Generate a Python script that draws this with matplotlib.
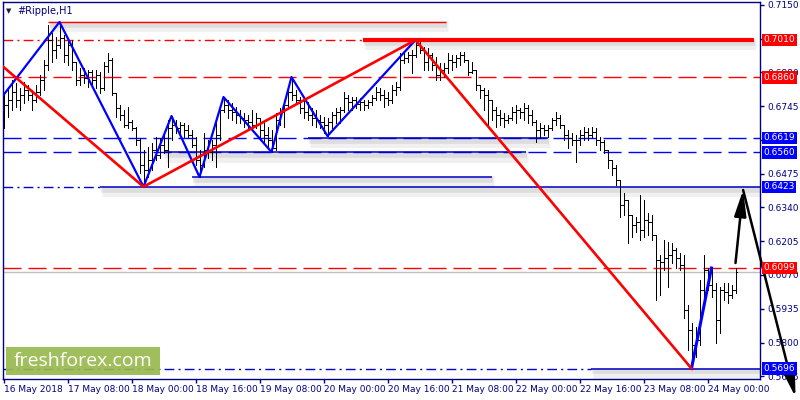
import matplotlib
matplotlib.use("Agg")
import matplotlib.pyplot as plt
import matplotlib.patheffects as pe
from matplotlib.collections import LineCollection
from matplotlib.patches import Rectangle
import numpy as np

# #Ripple H1 bars (open = previous close)
first_open = 0.6690
highs = [
    0.6790, 0.6822, 0.6850, 0.6838, 0.6818, 0.6842, 0.6830, 0.6810, 0.6830, 0.6870, 0.6930, 0.7070, 0.7038, 0.7022, 0.7082, 0.7030,
    0.7010, 0.7010, 0.6922, 0.6898, 0.6898, 0.6890, 0.6890, 0.6890, 0.6882, 0.6922, 0.6958, 0.6938, 0.6798, 0.6750, 0.6730, 0.6742,
    0.6690, 0.6662, 0.6618, 0.6570, 0.6582, 0.6598, 0.6622, 0.6618, 0.6638, 0.6690, 0.6706, 0.6690, 0.6682, 0.6678, 0.6670, 0.6650,
    0.6622, 0.6570, 0.6638, 0.6610, 0.6610, 0.6678, 0.6750, 0.6782, 0.6770, 0.6758, 0.6742, 0.6730, 0.6718, 0.6710, 0.6730, 0.6718,
    0.6698, 0.6682, 0.6662, 0.6650, 0.6718, 0.6738, 0.6770, 0.6818, 0.6862, 0.6810, 0.6782, 0.6770, 0.6762, 0.6738, 0.6730, 0.6710,
    0.6702, 0.6698, 0.6722, 0.6738, 0.6742, 0.6802, 0.6790, 0.6782, 0.6782, 0.6778, 0.6770, 0.6770, 0.6790, 0.6822, 0.6818, 0.6810,
    0.6802, 0.6830, 0.6842, 0.6958, 0.6962, 0.6962, 0.6970, 0.7010, 0.7002, 0.6982, 0.6978, 0.6958, 0.6942, 0.6918, 0.6918, 0.6958,
    0.6950, 0.6950, 0.6962, 0.6962, 0.6930, 0.6922, 0.6890, 0.6830, 0.6818, 0.6810, 0.6770, 0.6742, 0.6730, 0.6718, 0.6710, 0.6742,
    0.6750, 0.6738, 0.6758, 0.6750, 0.6730, 0.6690, 0.6678, 0.6670, 0.6670, 0.6698, 0.6722, 0.6710, 0.6670, 0.6650, 0.6638, 0.6630,
    0.6650, 0.6662, 0.6658, 0.6662, 0.6658, 0.6622, 0.6610, 0.6570, 0.6530, 0.6510, 0.6450, 0.6398, 0.6370, 0.6310, 0.6302, 0.6390,
    0.6370, 0.6318, 0.6310, 0.6230, 0.6150, 0.6210, 0.6202, 0.6198, 0.6178, 0.6158, 0.6150, 0.5950, 0.5878, 0.5862, 0.6050, 0.6150,
    0.6098, 0.6098, 0.6038, 0.6022, 0.6038, 0.6038, 0.6030, 0.6098,
]
lows = [
    0.6658, 0.6702, 0.6730, 0.6742, 0.6730, 0.6758, 0.6770, 0.6730, 0.6762, 0.6790, 0.6810, 0.6890, 0.6922, 0.6938, 0.6978, 0.6922,
    0.6910, 0.6890, 0.6830, 0.6830, 0.6838, 0.6822, 0.6834, 0.6818, 0.6798, 0.6810, 0.6882, 0.6790, 0.6702, 0.6690, 0.6662, 0.6658,
    0.6650, 0.6590, 0.6478, 0.6423, 0.6462, 0.6490, 0.6530, 0.6538, 0.6558, 0.6502, 0.6610, 0.6638, 0.6630, 0.6622, 0.6622, 0.6582,
    0.6510, 0.6462, 0.6502, 0.6538, 0.6530, 0.6502, 0.6610, 0.6722, 0.6698, 0.6690, 0.6678, 0.6678, 0.6662, 0.6658, 0.6650, 0.6658,
    0.6610, 0.6598, 0.6578, 0.6562, 0.6570, 0.6670, 0.6662, 0.6738, 0.6770, 0.6758, 0.6718, 0.6698, 0.6690, 0.6670, 0.6662, 0.6658,
    0.6638, 0.6626, 0.6658, 0.6678, 0.6678, 0.6722, 0.6730, 0.6730, 0.6738, 0.6730, 0.6730, 0.6738, 0.6750, 0.6770, 0.6770, 0.6742,
    0.6750, 0.6758, 0.6790, 0.6810, 0.6918, 0.6922, 0.6878, 0.6942, 0.6958, 0.6890, 0.6890, 0.6890, 0.6850, 0.6850, 0.6862, 0.6878,
    0.6890, 0.6902, 0.6910, 0.6922, 0.6870, 0.6878, 0.6810, 0.6778, 0.6730, 0.6662, 0.6690, 0.6662, 0.6670, 0.6662, 0.6678, 0.6690,
    0.6678, 0.6698, 0.6690, 0.6678, 0.6670, 0.6602, 0.6622, 0.6630, 0.6622, 0.6650, 0.6670, 0.6658, 0.6610, 0.6578, 0.6590, 0.6522,
    0.6590, 0.6610, 0.6610, 0.6622, 0.6590, 0.6570, 0.6558, 0.6498, 0.6470, 0.6430, 0.6302, 0.6310, 0.6198, 0.6222, 0.6242, 0.6210,
    0.6222, 0.6230, 0.6210, 0.5970, 0.5990, 0.6090, 0.6022, 0.6118, 0.6098, 0.6090, 0.5898, 0.5770, 0.5696, 0.5742, 0.5790, 0.5970,
    0.6010, 0.5982, 0.5798, 0.5838, 0.5970, 0.5958, 0.5978, 0.5998,
]
closes = [
    0.6750, 0.6770, 0.6802, 0.6770, 0.6790, 0.6810, 0.6790, 0.6770, 0.6802, 0.6850, 0.6910, 0.7010, 0.6970, 0.6990, 0.7018, 0.6950,
    0.6990, 0.6922, 0.6850, 0.6870, 0.6858, 0.6882, 0.6850, 0.6870, 0.6818, 0.6906, 0.6930, 0.6798, 0.6738, 0.6710, 0.6670, 0.6682,
    0.6658, 0.6610, 0.6510, 0.6490, 0.6530, 0.6570, 0.6550, 0.6590, 0.6570, 0.6658, 0.6670, 0.6658, 0.6670, 0.6650, 0.6630, 0.6590,
    0.6530, 0.6510, 0.6570, 0.6562, 0.6590, 0.6630, 0.6730, 0.6750, 0.6730, 0.6722, 0.6710, 0.6698, 0.6690, 0.6682, 0.6670, 0.6698,
    0.6650, 0.6630, 0.6610, 0.6578, 0.6690, 0.6722, 0.6750, 0.6802, 0.6790, 0.6770, 0.6738, 0.6722, 0.6710, 0.6698, 0.6690, 0.6682,
    0.6670, 0.6682, 0.6710, 0.6722, 0.6730, 0.6778, 0.6762, 0.6770, 0.6754, 0.6762, 0.6750, 0.6762, 0.6778, 0.6802, 0.6790, 0.6778,
    0.6770, 0.6810, 0.6822, 0.6930, 0.6938, 0.6950, 0.6950, 0.6990, 0.6970, 0.6922, 0.6950, 0.6910, 0.6870, 0.6890, 0.6898, 0.6930,
    0.6922, 0.6938, 0.6950, 0.6930, 0.6882, 0.6890, 0.6830, 0.6810, 0.6790, 0.6770, 0.6730, 0.6710, 0.6698, 0.6690, 0.6698, 0.6722,
    0.6730, 0.6722, 0.6738, 0.6710, 0.6682, 0.6650, 0.6658, 0.6650, 0.6658, 0.6690, 0.6698, 0.6670, 0.6630, 0.6618, 0.6610, 0.6610,
    0.6630, 0.6642, 0.6630, 0.6642, 0.6610, 0.6602, 0.6570, 0.6530, 0.6498, 0.6450, 0.6350, 0.6370, 0.6310, 0.6270, 0.6282, 0.6250,
    0.6290, 0.6282, 0.6230, 0.6130, 0.6122, 0.6138, 0.6150, 0.6170, 0.6138, 0.6110, 0.5930, 0.5850, 0.5790, 0.5810, 0.6010, 0.6090,
    0.6030, 0.6010, 0.5890, 0.6010, 0.6002, 0.5990, 0.6010, 0.6082,
]

time_ticks = [0, 16, 32, 48, 64, 80, 96, 112, 128, 144, 160, 176]
time_labels = ["16 May 2018", "17 May 08:00", "18 May 00:00", "18 May 16:00",
               "19 May 08:00", "20 May 00:00", "20 May 16:00", "21 May 08:00",
               "22 May 00:00", "22 May 16:00", "23 May 08:00", "24 May 00:00"]
price_ticks = [0.7150, 0.7015, 0.6880, 0.6745, 0.6610, 0.6475, 0.6340,
               0.6205, 0.6070, 0.5935, 0.5800, 0.5665]
# scale labels that sit completely under a level box are not drawn
hidden_ticks = [0.7015, 0.6610]

# zigzag / trend lines: (bar index, price)
blue_zz_idx = [0, 14, 35, 42, 49, 55, 67, 72, 81, 103]
blue_zz_px = [0.6790, 0.7082, 0.6423, 0.6706, 0.6462, 0.6782, 0.6562, 0.6862, 0.6626, 0.7010]
blue_last_idx = [172, 177]
blue_last_px = [0.5696, 0.6098]
red_tl_idx = [0, 35, 103, 172]
red_tl_px = [0.6902, 0.6423, 0.7010, 0.5696]

# labelled levels on the price scale
level_prices = [0.7010, 0.6860, 0.6619, 0.6560, 0.6423, 0.6099, 0.5696]
level_colors = ["#ff0000", "#ff0000", "#0000ff", "#0000ff", "#0000ff", "#ff0000", "#0000ff"]
bid_price = 0.6082

NAVY = "#000080"
W, H = 800, 400
fig = plt.figure(figsize=(W / 100, H / 100), dpi=100)
ax = fig.add_axes([2.5 / W, 21 / H, 757.5 / W, 377 / H])
ax.set_xlim(-0.25, -0.25 + 757.5 / 4)
ax.set_ylim(0.5654, 0.7162)
for s in ax.spines.values():
    s.set_color(NAVY)
    s.set_linewidth(1)

n = len(closes)
idx = np.arange(n)
opens = np.r_[first_open, closes[:-1]]
x0, x1 = ax.get_xlim()

shadow = [pe.SimpleLineShadow(offset=(1.5, -3), shadow_color="k", alpha=0.06, linewidth=8),
          pe.SimpleLineShadow(offset=(1, -2), shadow_color="k", alpha=0.08, linewidth=4),
          pe.Normal()]
dash = (0, (13, 5))
dashdot = (0, (7, 3, 1.5, 3))

# horizontal levels
ax.hlines(0.7082, 11.2, 110.5, color="#ff0000", lw=1, path_effects=shadow, zorder=2)
ax.hlines(0.7010, x0, 89.8, color="#ff0000", lw=1, linestyle=dashdot, zorder=2)
ax.hlines(0.7010, 89.8, 187.5, color="#ff0000", lw=3, path_effects=shadow, zorder=2)
ax.hlines(0.6860, x0, x1, color="#ff0000", lw=1, linestyle=dash, zorder=2)
ax.hlines(0.6619, x0, x1, color="#0000ff", lw=1, linestyle=dash, zorder=2)
ax.hlines(0.6619, 76, 136, color="#0000c8", lw=1.1, path_effects=shadow, zorder=2)
ax.hlines(0.6560, x0, x1, color="#0000ff", lw=1, linestyle=dash, zorder=2)
ax.hlines(0.6560, 40, 130.5, color="#0000c8", lw=1.1, path_effects=shadow, zorder=2)
ax.hlines(0.6462, 47, 122, color="#0000c8", lw=1.1, path_effects=shadow, zorder=2)
ax.hlines(0.6423, x0, 24, color="#0000c8", lw=1, linestyle=dashdot, zorder=2)
ax.hlines(0.6423, 24, x1, color="#0000c8", lw=1.1, path_effects=shadow, zorder=2)
ax.hlines(bid_price, x0, x1, color="#c0c0c0", lw=1, zorder=1.5)
ax.hlines(0.6099, x0, x1, color="#ff0000", lw=1, linestyle=dash, zorder=2)
ax.hlines(0.5696, x0, 146.8, color="#0000c8", lw=1, linestyle=dashdot, zorder=2)
ax.hlines(0.5696, 146.8, x1, color="#0000c8", lw=1.1, path_effects=shadow, zorder=2)

# OHLC bars
segs = []
for i in idx:
    segs.append([(i, lows[i]), (i, highs[i])])
    segs.append([(i - 0.3, opens[i]), (i, opens[i])])
    segs.append([(i, closes[i]), (i + 0.3, closes[i])])
ax.add_collection(LineCollection(segs, colors="black", linewidths=0.72, antialiased=False, zorder=3))

# zigzag and trend lines
ax.plot(blue_zz_idx, blue_zz_px, color="#0000ff", lw=1.6, zorder=4)
ax.plot(blue_last_idx, blue_last_px, color="#0000ff", lw=2.2, zorder=4)
ax.plot(red_tl_idx, red_tl_px, color="#ff0000", lw=1.9, zorder=4)

# forecast arrows
arrow_kw = dict(arrowstyle="-|>,head_length=1.3,head_width=0.3", color="black",
                lw=1.8, mutation_scale=12, shrinkA=0, shrinkB=0)
ax.annotate("", xy=(184.9, 0.6410), xytext=(183, 0.6118), arrowprops=arrow_kw,
            annotation_clip=False, zorder=6)
ax.annotate("", xy=(198, 0.5582), xytext=(184.9, 0.6410), arrowprops=arrow_kw,
            annotation_clip=False, zorder=6)

# axes ticks
ax.yaxis.tick_right()
ax.set_yticks(price_ticks)
ax.set_yticklabels(["" if p in hidden_ticks else f"{p:.4f}" for p in price_ticks])
ax.set_xticks(time_ticks)
ax.set_xticklabels(time_labels)
for lab in ax.get_xticklabels():
    lab.set_horizontalalignment("left")
ax.tick_params(axis="y", length=3, width=1, color=NAVY, labelcolor=NAVY, labelsize=6.5, pad=2)
ax.tick_params(axis="x", length=3, width=1, color=NAVY, labelcolor=NAVY, labelsize=6.5, pad=1.5)

# level labels on the price scale
ytr = ax.get_yaxis_transform()
for p, c in zip(level_prices, level_colors):
    ax.text(1.0045, p, f"{p:.4f}", transform=ytr, ha="left", va="center", fontsize=6.5,
            color="white", clip_on=False, zorder=7,
            bbox=dict(boxstyle="square,pad=0.18", fc=c, ec="none"))

# title
fig.text(6 / W, 1 - 11 / H, "\u25bc", fontsize=5, color="#1a1a50", va="center")
fig.text(17 / W, 1 - 11 / H, "#Ripple,H1", fontsize=7, color=NAVY, va="center")

# watermark
fig.add_artist(Rectangle((6 / W, 25 / H), 154 / W, 28 / H, transform=fig.transFigure,
                         fc="#99b94f", ec="none", alpha=0.93, zorder=8))
fig.text(83 / W, 38.5 / H, "freshforex.com", fontsize=14, color="white", ha="center",
         va="center", family=["Open Sans", "DejaVu Sans"], zorder=9)

fig.savefig("out.png", dpi=100)
